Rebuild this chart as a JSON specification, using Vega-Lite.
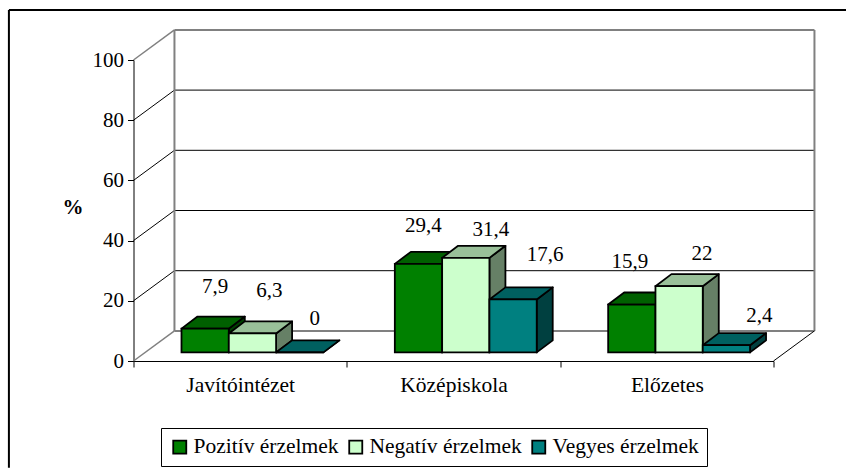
{
"$schema":"https://vega.github.io/schema/vega-lite/v6.json",
"width":640,"height":301,
"autosize":{"type":"none"},
"padding":{"left":133.5,"top":60,"right":72.5,"bottom":107},
"background":"white",
"config":{"view":{"stroke":null},"font":"Liberation Serif"},
"datasets":{
"levels":[{"v":0},{"v":20},{"v":40},{"v":60},{"v":80},{"v":100}]
},
"encoding":{},
"layer":[
{"data":{"values":[{"a":1}]},"mark":{"type":"rule","color":"black","strokeWidth":2},"encoding":{"x":{"datum":-0.584,"type":"quantitative","scale":{"domain":[0,3],"nice":false,"zero":false},"axis":{"values":[0,0.5,1,1.5,2,2.5,3],"title":null,"grid":false,"domainColor":"black","tickColor":"black","tickSize":6,"tickOpacity":{"condition":{"test":"datum.value%1==0","value":1},"value":0},"labelFont":"Liberation Serif","labelFontSize":21.5,"labelColor":"black","labelPadding":7,"labelOverlap":false,"labelExpr":"datum.value==0.5?'Javítóintézet':datum.value==1.5?'Középiskola':datum.value==2.5?'Előzetes':''"}},"x2":{"datum":3.34},"y":{"datum":116.6,"type":"quantitative","scale":{"domain":[0,100],"nice":false},"axis":{"values":[0,20,40,60,80,100],"title":"%","titleAngle":0,"titleFont":"Liberation Serif","titleFontSize":21,"titleFontWeight":"bold","titleColor":"black","titleX":-61,"titleY":157,"titleAlign":"center","grid":false,"domainColor":"black","tickColor":"black","tickSize":6,"labelFont":"Liberation Serif","labelFontSize":21,"labelColor":"black","labelPadding":4}}}},
{"data":{"values":[{"a":1}]},"mark":{"type":"rule","color":"black","strokeWidth":2},"encoding":{"x":{"datum":-0.584,"type":"quantitative"},"y":{"datum":116.6,"type":"quantitative"},"y2":{"datum":-35.5}}},
{"data":{"name":"levels"},"mark":{"type":"rule"},"transform":[{"calculate":"datum.v+10","as":"b"}],"encoding":{"x":{"datum":0.192,"type":"quantitative"},"x2":{"datum":3.192},"y":{"field":"b","type":"quantitative"},"stroke":{"condition":{"test":"datum.v==0||datum.v==100","value":"#808080"},"value":"black"},"strokeWidth":{"condition":{"test":"datum.v==0||datum.v==100","value":2},"value":1}}},
{"data":{"name":"levels"},"mark":{"type":"rule"},"transform":[{"calculate":"datum.v+10","as":"b"}],"encoding":{"x":{"datum":0,"type":"quantitative"},"x2":{"datum":0.192},"y":{"field":"v","type":"quantitative"},"y2":{"field":"b"},"stroke":{"condition":{"test":"datum.v==0||datum.v==100","value":"#808080"},"value":"black"},"strokeWidth":{"condition":{"test":"datum.v==0||datum.v==100","value":1.5},"value":1}}},
{"data":{"values":[{"a":1}]},"mark":{"type":"rule","color":"#808080","strokeWidth":2},"encoding":{"x":{"datum":0.192,"type":"quantitative"},"y":{"datum":10,"type":"quantitative"},"y2":{"datum":110}}},
{"data":{"values":[{"a":1}]},"mark":{"type":"rule","color":"#808080","strokeWidth":2},"encoding":{"x":{"datum":3.192,"type":"quantitative"},"y":{"datum":10,"type":"quantitative"},"y2":{"datum":110}}},
{"data":{"values":[{"a":1}]},"mark":{"type":"rule","color":"black","strokeWidth":1},"encoding":{"x":{"datum":3,"type":"quantitative"},"x2":{"datum":3.192},"y":{"datum":0,"type":"quantitative"},"y2":{"datum":10}}},
{
"data":{"values":[
{"cat":"Javítóintézet","series":"Pozitív érzelmek","value":7.9},
{"cat":"Javítóintézet","series":"Negatív érzelmek","value":6.3},
{"cat":"Javítóintézet","series":"Vegyes érzelmek","value":0},
{"cat":"Középiskola","series":"Pozitív érzelmek","value":29.4},
{"cat":"Középiskola","series":"Negatív érzelmek","value":31.4},
{"cat":"Középiskola","series":"Vegyes érzelmek","value":17.6},
{"cat":"Előzetes","series":"Pozitív érzelmek","value":15.9},
{"cat":"Előzetes","series":"Negatív érzelmek","value":22},
{"cat":"Előzetes","series":"Vegyes érzelmek","value":2.4}
]},
"transform":[
{"calculate":"indexof(['Javítóintézet','Középiskola','Előzetes'],datum.cat)","as":"ci"},
{"calculate":"indexof(['Pozitív érzelmek','Negatív érzelmek','Vegyes érzelmek'],datum.series)","as":"si"},
{"calculate":"datum.ci+0.225+datum.si*0.2217","as":"xl"},
{"calculate":"datum.xl+0.2217","as":"xr"},
{"calculate":"2.86+datum.value","as":"top"},
{"calculate":"0","as":"t0"},
{"calculate":"1","as":"t1"},
{"fold":["t0","t1"],"as":["k","t"]}
],
"layer":[
{"transform":[{"calculate":"datum.xr+0.075*datum.t","as":"px"},{"calculate":"2.86+4*datum.t","as":"py"},{"calculate":"datum.top+4*datum.t","as":"py2"}],
"mark":{"type":"area","orient":"vertical","stroke":"black","strokeWidth":1.8,"strokeJoin":"round"},
"encoding":{"detail":{"field":"xl"},"x":{"field":"px","type":"quantitative"},"y":{"field":"py","type":"quantitative","stack":null},"y2":{"field":"py2"},"fill":{"field":"series","type":"nominal","legend":null,"scale":{"domain":["Pozitív érzelmek","Negatív érzelmek","Vegyes érzelmek"],"range":["#004000","#668066","#004040"]}}}},
{"transform":[{"calculate":"datum.xl+0.075*datum.t","as":"px"},{"calculate":"datum.xr+0.075*datum.t","as":"px2"},{"calculate":"datum.top+4*datum.t","as":"py"}],
"mark":{"type":"area","orient":"horizontal","stroke":"black","strokeWidth":1.8,"strokeJoin":"round"},
"encoding":{"detail":{"field":"xl"},"x":{"field":"px","type":"quantitative","stack":null},"x2":{"field":"px2"},"y":{"field":"py","type":"quantitative"},"fill":{"field":"series","type":"nominal","legend":null,"scale":{"domain":["Pozitív érzelmek","Negatív érzelmek","Vegyes érzelmek"],"range":["#006000","#99C099","#006060"]}}}},
{"transform":[{"filter":"datum.t==0"},{"calculate":"2.86","as":"base"}],
"mark":{"type":"rect","stroke":"black","strokeWidth":1.8},
"encoding":{"x":{"field":"xl","type":"quantitative"},"x2":{"field":"xr"},"y":{"field":"base","type":"quantitative"},"y2":{"field":"top"},"fill":{"field":"series","type":"nominal","title":null,"scale":{"domain":["Pozitív érzelmek","Negatív érzelmek","Vegyes érzelmek"],"range":["#008000","#CCFFCC","#008080"]},"legend":{"orient":"none","legendX":27.5,"legendY":368,"direction":"horizontal","columns":3,"symbolType":"square","symbolSize":170,"symbolStrokeColor":"black","symbolStrokeWidth":1.8,"symbolOpacity":1,"labelFont":"Liberation Serif","labelFontSize":21.5,"labelColor":"black","labelLimit":300,"strokeColor":"black","fillColor":"white","padding":8,"columnPadding":6,"labelOffset":3}}}},
{"transform":[{"filter":"datum.t==0"},
{"calculate":"(datum.xl+datum.xr)/2+[[10,17,15],[5,25,32],[-2,23,33]][datum.ci][datum.si]/213.33","as":"lx"},
{"calculate":"datum.top+[[36,36,27],[32,22,38],[37,26.5,23]][datum.ci][datum.si]/3.01","as":"ly"},
{"calculate":"replace(''+datum.value,'.',',')","as":"lab"}],
"mark":{"type":"text","font":"Liberation Serif","fontSize":21,"color":"black","baseline":"alphabetic","align":"center"},
"encoding":{"x":{"field":"lx","type":"quantitative"},"y":{"field":"ly","type":"quantitative"},"text":{"field":"lab"}}}
],
"resolve":{"scale":{"fill":"independent"}}
}
],
"resolve":{"scale":{"fill":"independent"}}
}
